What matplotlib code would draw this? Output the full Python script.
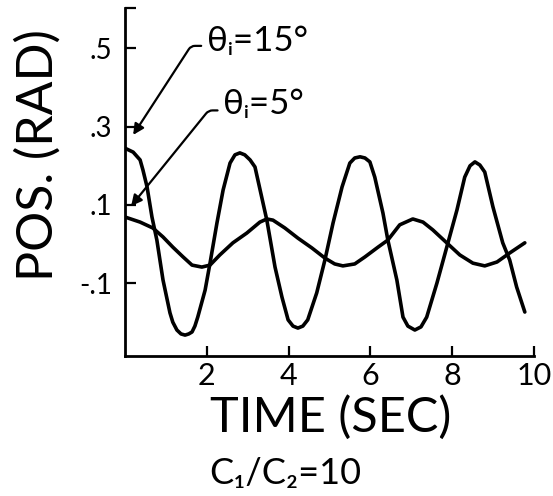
import matplotlib
matplotlib.use("Agg")
import matplotlib.pyplot as plt

# ---- data ----
t_15 = [0.00, 0.20, 0.37, 0.44, 0.54, 0.66, 0.78, 0.93, 1.10, 1.17, 1.27, 1.37, 1.47,
        1.56, 1.64, 1.71, 1.78, 1.96, 2.08, 2.25, 2.40, 2.57, 2.69, 2.81, 2.93, 3.06,
        3.18, 3.47, 3.67, 3.84, 3.99, 4.11, 4.23, 4.35, 4.47, 4.69, 4.89, 5.09, 5.31,
        5.50, 5.62, 5.75, 5.87, 5.99, 6.11, 6.31, 6.43, 6.65, 6.80, 6.92, 7.09, 7.24,
        7.38, 7.63, 7.90, 8.12, 8.31, 8.44, 8.56, 8.68, 8.80, 9.00, 9.24, 9.41, 9.58,
        9.78]
y_15 = [0.245, 0.235, 0.215, 0.189, 0.146, 0.069, 0.010, -0.092, -0.176, -0.200, -0.220,
        -0.230, -0.233, -0.230, -0.225, -0.210, -0.187, -0.118, -0.049, 0.054, 0.138,
        0.207, 0.228, 0.233, 0.228, 0.215, 0.197, 0.061, -0.059, -0.136, -0.194, -0.210,
        -0.215, -0.210, -0.194, -0.125, -0.041, 0.054, 0.146, 0.207, 0.220, 0.223, 0.220,
        0.210, 0.171, 0.079, 0.010, -0.092, -0.187, -0.210, -0.220, -0.212, -0.187,
        -0.100, 0.003, 0.087, 0.171, 0.200, 0.210, 0.202, 0.184, 0.095, 0.003, -0.041,
        -0.110, -0.174]

t_5 = [0.00, 0.37, 0.68, 0.93, 1.17, 1.42, 1.64, 1.88, 2.08, 2.32, 2.64, 2.98, 3.30,
       3.47, 3.62, 3.91, 4.23, 4.57, 4.89, 5.13, 5.33, 5.62, 5.87, 6.19, 6.43, 6.72,
       7.04, 7.29, 7.53, 7.87, 8.19, 8.51, 8.80, 9.10, 9.41, 9.78]
y_5 = [0.069, 0.056, 0.041, 0.018, -0.008, -0.033, -0.054, -0.059, -0.054, -0.028,
       0.003, 0.028, 0.056, 0.064, 0.061, 0.041, 0.015, -0.010, -0.036, -0.051, -0.056,
       -0.051, -0.033, -0.008, 0.010, 0.049, 0.064, 0.056, 0.036, 0.003, -0.028, -0.049,
       -0.056, -0.046, -0.023, 0.003]

x_ticks = [2, 4, 6, 8, 10]
x_tick_labels = ["2", "4", "6", "8", "10"]
y_ticks = [-0.1, 0.1, 0.3, 0.5]
y_tick_labels = ["-.1", ".1", ".3", ".5"]

label_15 = "θᵢ=15°"
label_5 = "θᵢ=5°"
x_label = "TIME (SEC)"
y_label = "POS. (RAD)"
caption = "C₁/C₂=10"

# ---- figure ----
FONT = ["Lato", "DejaVu Sans"]
plt.rcParams["font.family"] = FONT
plt.rcParams["font.weight"] = "normal"

fig = plt.figure(figsize=(5.53, 4.96), dpi=100)
ax = fig.add_axes([0.226, 0.2823, 0.743, 0.7016])

ax.plot(t_15, y_15, color="black", lw=2.6, solid_capstyle="round", solid_joinstyle="round")
ax.plot(t_5, y_5, color="black", lw=2.6, solid_capstyle="round", solid_joinstyle="round")

ymin, ymax = -0.2864, 0.6036
ax.set_xlim(0, 10.05)
ax.set_ylim(ymin, ymax)

for s in ("top", "right"):
    ax.spines[s].set_visible(False)
ax.spines["left"].set_linewidth(2.0)
ax.spines["bottom"].set_linewidth(2.0)
ax.spines["bottom"].set_bounds(0, 10)

ax.set_xticks(x_ticks)
ax.set_xticklabels(x_tick_labels, fontsize=22)
ax.set_yticks(y_ticks + [ymax])
ax.set_yticklabels(y_tick_labels + [""], fontsize=20)
ax.tick_params(axis="x", direction="in", length=7, width=1.6, pad=4)
ax.tick_params(axis="y", direction="in", length=8, width=1.6, pad=9)

ax.set_xlabel(x_label, fontsize=35, labelpad=4)
ax.set_ylabel(y_label, fontsize=36)
ax.yaxis.set_label_coords(-0.155, 0.578)

arrow_kw = dict(arrowstyle="-|>", color="black", lw=1.6, mutation_scale=16,
                shrinkA=2, shrinkB=0)
ax.annotate(label_15, xy=(0.20, 0.279), xytext=(2.0, 0.519), fontsize=25,
            ha="left", va="center",
            arrowprops=dict(connectionstyle="angle,angleA=180,angleB=57,rad=4",
                            relpos=(0, 0.35), **arrow_kw))
ax.annotate(label_5, xy=(0.15, 0.097), xytext=(2.40, 0.358), fontsize=25,
            ha="left", va="center",
            arrowprops=dict(connectionstyle="angle,angleA=180,angleB=51,rad=4",
                            relpos=(0, 0.3), **arrow_kw))

fig.text(285 / 553, 1 - 474 / 496, caption, fontsize=26, ha="center", va="center")

fig.savefig("out.png", dpi=100)
